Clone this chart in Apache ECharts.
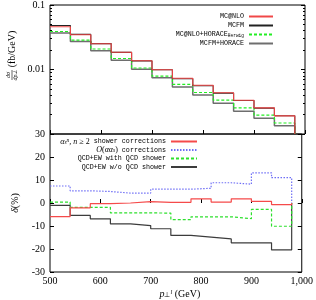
<!DOCTYPE html>
<html><head><meta charset="utf-8">
<script src="https://cdn.jsdelivr.net/npm/echarts@6/dist/echarts.min.js"></script>
<style>html,body{margin:0;padding:0;background:#fff}#c{width:316px;height:300px}</style>
</head><body><div id="c"></div>
<script>
// ---- data ----
const binEdges = [500,540,580,620,660,700,740,780,820,860,900,940,980];
// top panel: d sigma / d pT (fb/GeV)
const mcnlo       = [0.0460,0.0346,0.0251,0.0185,0.0137,0.0099,0.0073,0.0057,0.00435,0.00334,0.00254,0.00191];
const mcfm        = [0.0480,0.0350,0.0252,0.0184,0.0136,0.0099,0.0072,0.0056,0.00430,0.00330,0.00252,0.00192];
const mcnloHorace = [0.0388,0.0286,0.0208,0.0148,0.01055,0.0079,0.0059,0.0044,0.00334,0.00254,0.00196,0.00148];
const mcfmHorace  = [0.0367,0.0272,0.0196,0.0139,0.0101,0.00745,0.00534,0.00402,0.00300,0.00226,0.00175,0.00134];
// bottom panel: delta (%)
const showerCorr    = [-5.9,-2.1,-0.3,0.0,0.6,0.3,0.3,1.8,0.4,1.8,0.7,-0.7];
const ewCorr        = [7.4,5.3,5.0,4.3,4.3,6.0,6.0,6.4,8.8,8.2,13.1,11.0];
const qcdEwShower   = [0.4,-1.9,-1.9,-4.3,-4.3,-4.4,-7.2,-6.0,-6.0,-6.8,-2.8,-10.1];
const qcdEwNoShower = [-1.0,-5.4,-6.9,-9.1,-9.8,-11.2,-14.1,-14.8,-15.6,-17.3,-17.3,-20.4];
// ticks
const topMinorTicks = [0.002,0.003,0.004,0.005,0.006,0.007,0.008,0.009,0.02,0.03,0.04,0.05,0.06,0.07,0.08,0.09];
const topTickLabels = ['0.1','0.01'];

function hist(vals, endVal){
  const d = vals.map((v,i)=>[binEdges[i], v]);
  const last = binEdges[vals.length];
  d.push([last, vals[vals.length-1]]);
  d.push([last, endVal]);
  return d;
}

const serif = 'Liberation Serif';
const mono = 'Liberation Mono';
const rich = {
  m:  {fontFamily: serif, fontStyle:'italic', fontSize:8, color:'#000'},
  n:  {fontFamily: serif, fontSize:8, color:'#000'},
  sb: {fontFamily: serif, fontStyle:'italic', fontSize:5.5, verticalAlign:'bottom', color:'#000'},
  sp: {fontFamily: serif, fontStyle:'italic', fontSize:5.5, verticalAlign:'top', color:'#000'},
  hs: {fontFamily: mono, fontSize:4.5, verticalAlign:'bottom', color:'#000'}
};

const chart = echarts.init(document.getElementById('c'), null, {renderer:'canvas'});

function line(name, data, xi, yi, color, type, width, z){
  return {name, type:'line', step:'end', data, xAxisIndex:xi, yAxisIndex:yi,
    symbol:'none', showSymbol:false, silent:true, z:z||2, animation:false,
    lineStyle:{color, type, width}, itemStyle:{color}};
}

const tickStyle = {color:'#000', width:1};
const legendCommon = {orient:'vertical', align:'right', padding:0, selectedMode:false,
  itemHeight:6, itemStyle:{opacity:0, borderWidth:0},
  textStyle:{fontFamily:mono, fontSize:6.7, color:'#000', lineHeight:8, rich:rich}};
const option = {
  animation:false,
  grid:[
    {left:50, right:11, top:5, height:129, show:true, borderColor:'#000', borderWidth:1, backgroundColor:'transparent'},
    {left:50, right:11, top:134, height:138, show:true, borderColor:'#000', borderWidth:1, backgroundColor:'transparent'}
  ],
  xAxis:[
    {gridIndex:0, type:'value', min:500, max:1000, interval:100, position:'bottom',
      axisLine:{show:false}, axisTick:{inside:true, length:4, lineStyle:tickStyle},
      axisLabel:{show:false}, splitLine:{show:false}},
    {gridIndex:1, type:'value', min:500, max:1000, interval:100, position:'bottom',
      axisLine:{show:false}, axisTick:{inside:true, length:4, lineStyle:tickStyle},
      axisLabel:{fontFamily:serif, fontSize:10, color:'#000', margin:4},
      splitLine:{show:false},
      name:'{i|p}{sb|⊥}{sp|l} (GeV)', nameLocation:'middle', nameGap:17,
      nameTextStyle:{fontFamily:serif, fontSize:10, color:'#000', padding:[0,0,0,8],
        rich:{i:{fontFamily:serif, fontStyle:'italic', fontSize:10, color:'#000'},
              sb:{fontFamily:serif, fontSize:6.5, verticalAlign:'bottom', color:'#000'},
              sp:{fontFamily:serif, fontStyle:'italic', fontSize:6.5, verticalAlign:'top', color:'#000'}}}}
  ],
  yAxis:[
    {gridIndex:0, type:'log', logBase:10, min:0.001, max:0.1, position:'left',
      axisLine:{show:false}, axisTick:{inside:true, length:4, lineStyle:tickStyle},
      splitLine:{show:false},
      axisLabel:{fontFamily:serif, fontSize:10, color:'#000', margin:5,
        formatter:function(v){ const e=Math.round(Math.log10(v)); return e===-1?topTickLabels[0]:(e===-2?topTickLabels[1]:''); }}},
    {gridIndex:0, type:'log', logBase:10, min:0.001, max:0.1, position:'left',
      axisLine:{show:false}, axisTick:{inside:true, length:2, lineStyle:tickStyle, customValues:topMinorTicks},
      axisLabel:{show:false}, splitLine:{show:false}},
    {gridIndex:0, type:'log', logBase:10, min:0.001, max:0.1, position:'right',
      axisLine:{show:false}, axisTick:{inside:true, length:4, lineStyle:tickStyle},
      axisLabel:{show:false}, splitLine:{show:false}},
    {gridIndex:0, type:'log', logBase:10, min:0.001, max:0.1, position:'right',
      axisLine:{show:false}, axisTick:{inside:true, length:2, lineStyle:tickStyle, customValues:topMinorTicks},
      axisLabel:{show:false}, splitLine:{show:false}},
    {gridIndex:1, type:'value', min:-30, max:30, interval:10, position:'left',
      axisLine:{show:false}, axisTick:{inside:true, length:4, lineStyle:tickStyle},
      axisLabel:{fontFamily:serif, fontSize:10, color:'#000', margin:5},
      splitLine:{show:false},
      name:'{i|δ}(%)', nameLocation:'middle', nameRotate:90, nameGap:27,
      nameTextStyle:{fontFamily:serif, fontSize:10, color:'#000',
        rich:{i:{fontFamily:serif, fontStyle:'italic', fontSize:10, color:'#000'}}}},
    {gridIndex:1, type:'value', min:-30, max:30, interval:10, position:'right',
      axisLine:{show:false}, axisTick:{inside:true, length:4, lineStyle:tickStyle},
      axisLabel:{show:false}, splitLine:{show:false}}
  ],
  legend:[
    Object.assign({}, legendCommon, {right:42, top:12.5, itemGap:1, itemWidth:24,
      data:['MC@NLO','MCFM','MC@NLO+HORACE','MCFM+HORACE'],
      formatter:function(n){ return n==='MC@NLO+HORACE' ? 'MC@NLO+HORACE{hs|Herwig}' : n; }}),
    Object.assign({}, legendCommon, {right:118, top:137.5, itemGap:0.5, itemWidth:26,
      data:['shower','oaas','withShower','noShower'],
      formatter:function(n){
        if(n==='shower') return '{m|α}{sb|s}{sp|n}{m|, n}{n| ≥ 2} shower corrections';
        if(n==='oaas') return '{m|O}{n|(}{m|αα}{sb|s}{n|)} corrections';
        if(n==='withShower') return 'QCD+EW with QCD shower';
        return 'QCD+EW w/o QCD shower';
      }})
  ],
  graphic:[
    {type:'group', x:12, y:57, rotation:Math.PI/2, silent:true, children:[
      {type:'text', x:8, y:0, style:{text:'(fb/GeV)', font:'10px "Liberation Serif"', fill:'#000', align:'center', verticalAlign:'middle'}},
      {type:'text', x:-18, y:-3.2, style:{text:'dσ', font:'italic 6px "Liberation Serif"', fill:'#000', align:'center', verticalAlign:'middle'}},
      {type:'line', shape:{x1:-23, y1:0, x2:-13, y2:0}, style:{stroke:'#000', lineWidth:0.6}},
      {type:'text', x:-18, y:3.6, style:{text:'dp⊥', font:'italic 6px "Liberation Serif"', fill:'#000', align:'center', verticalAlign:'middle'}}
    ]}
  ],
  series:[
    line('MCFM+HORACE', hist(mcfmHorace, 0.001), 0, 0, '#6e6e6e', 'solid', 1.5, 2),
    line('MC@NLO+HORACE', hist(mcnloHorace, 0.001), 0, 0, '#22ee22', [3,2], 1.2, 3),
    line('MCFM', hist(mcfm, 0.001), 0, 0, '#222222', 'solid', 1.1, 4),
    line('MC@NLO', hist(mcnlo, 0.001), 0, 0, '#f04848', 'solid', 1.1, 5),
    line('shower', hist(showerCorr, 0), 1, 4, '#f54a4a', 'solid', 1.2, 5),
    line('oaas', hist(ewCorr, 0), 1, 4, '#6f6ff5', [1.5,1.5], 1.2, 4),
    line('withShower', hist(qcdEwShower, 0), 1, 4, '#2ee02e', [3,2], 1.2, 3),
    line('noShower', hist(qcdEwNoShower, 0), 1, 4, '#3c3c3c', 'solid', 1.2, 2)
  ]
};
chart.setOption(option);
</script></body></html>
